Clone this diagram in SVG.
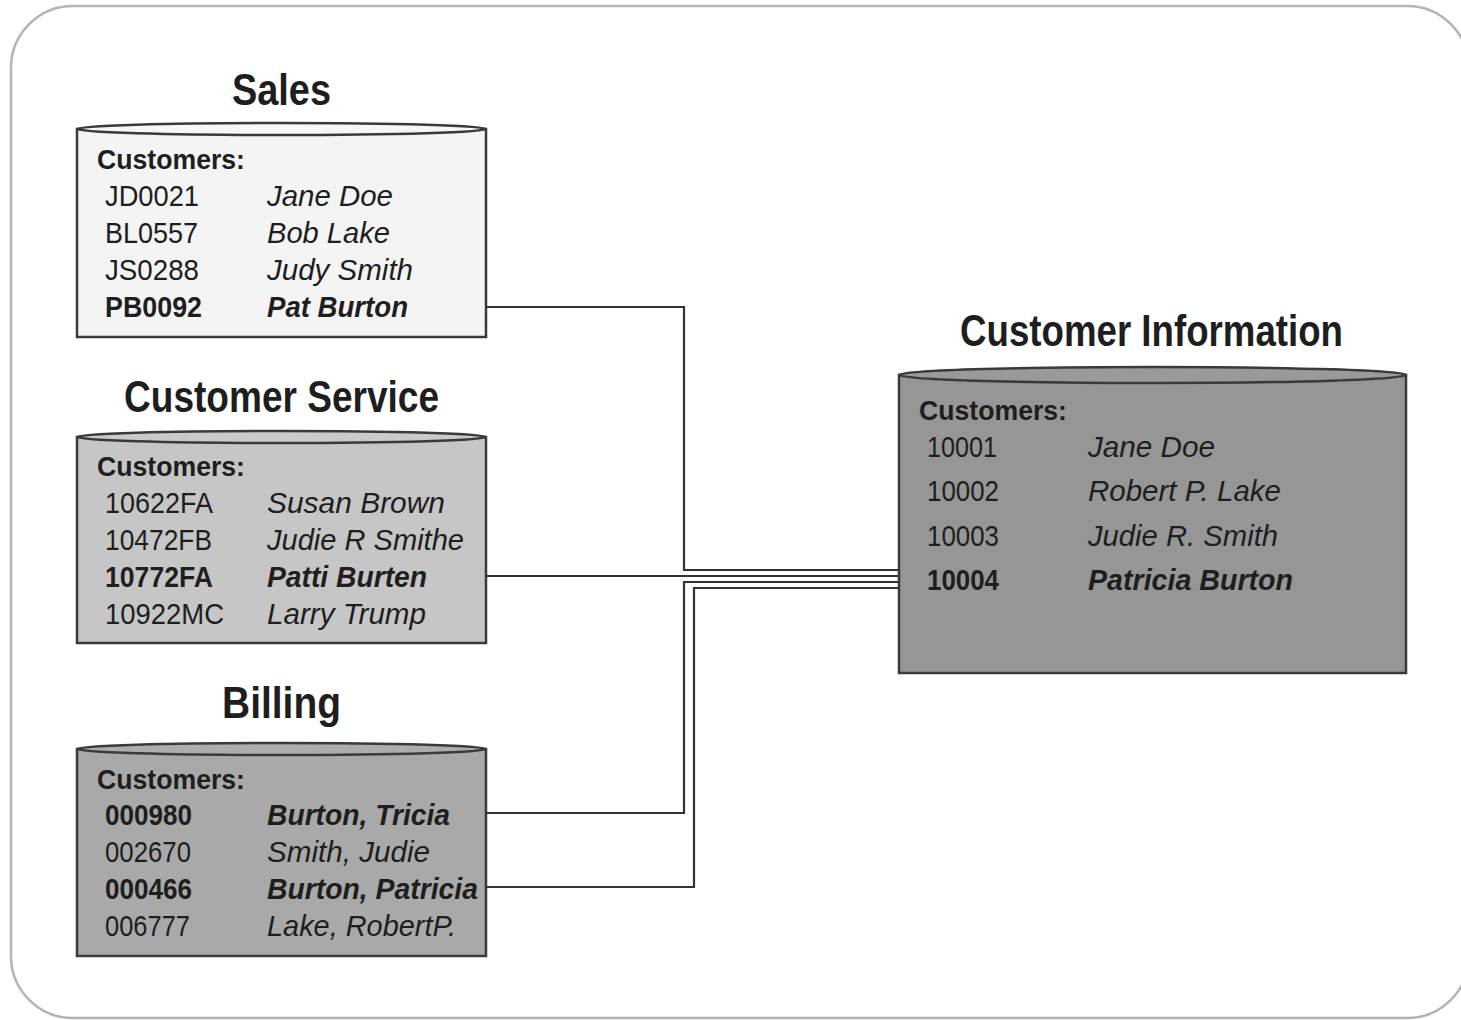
<svg xmlns="http://www.w3.org/2000/svg" width="1461" height="1020" viewBox="0 0 1461 1020">
<style>
text{font-family:"Liberation Sans Narrow","Liberation Sans",Arial,sans-serif;fill:#1e1e1e}
.title{font-size:44px;font-weight:bold}
.hdr{font-size:28px;font-weight:bold}
.id{font-size:30px}
.nm{font-size:30px;font-style:italic}
.b{font-weight:bold}
.cyl{stroke:#3a3a3a;stroke-width:2.5}
.conn{fill:none;stroke:#333;stroke-width:2.2}
</style>
<rect x="11" y="6" width="1458" height="1012" rx="62" ry="62" fill="#fff" stroke="#b4b4b4" stroke-width="2.5"/>

<g id="connectors">
<polyline class="conn" points="485,307 684,307 684,570 899,570"/>
<polyline class="conn" points="485,576 899,576"/>
<polyline class="conn" points="485,813 684,813 684,582 899,582"/>
<polyline class="conn" points="485,887 694,887 694,588 899,588"/>
</g>

<g id="sales">
<text class="title" x="232" y="105" textLength="99" lengthAdjust="spacingAndGlyphs">Sales</text>
<path class="cyl" fill="#f4f4f4" d="M77,129 L77,337 L486,337 L486,129 Z"/>
<ellipse class="cyl" fill="#f7f7f7" cx="281.5" cy="129" rx="204.5" ry="6"/>
<text class="hdr" x="97" y="169" textLength="148" lengthAdjust="spacingAndGlyphs">Customers:</text>
<text class="id" x="105" y="206" textLength="94" lengthAdjust="spacingAndGlyphs">JD0021</text>
<text class="nm" x="267" y="206" textLength="126" lengthAdjust="spacingAndGlyphs">Jane Doe</text>
<text class="id" x="105" y="243" textLength="93" lengthAdjust="spacingAndGlyphs">BL0557</text>
<text class="nm" x="267" y="243" textLength="123" lengthAdjust="spacingAndGlyphs">Bob Lake</text>
<text class="id" x="105" y="280" textLength="94" lengthAdjust="spacingAndGlyphs">JS0288</text>
<text class="nm" x="267" y="280" textLength="146" lengthAdjust="spacingAndGlyphs">Judy Smith</text>
<text class="id b" x="105" y="317" textLength="97" lengthAdjust="spacingAndGlyphs">PB0092</text>
<text class="nm b" x="267" y="317" textLength="141" lengthAdjust="spacingAndGlyphs">Pat Burton</text>
</g>

<g id="customer-service">
<text class="title" x="124" y="412" textLength="315" lengthAdjust="spacingAndGlyphs">Customer Service</text>
<path class="cyl" fill="#c6c6c6" d="M77,437 L77,643 L486,643 L486,437 Z"/>
<ellipse class="cyl" fill="#cacaca" cx="281.5" cy="437" rx="204.5" ry="6"/>
<text class="hdr" x="97" y="476" textLength="148" lengthAdjust="spacingAndGlyphs">Customers:</text>
<text class="id" x="105" y="513" textLength="108" lengthAdjust="spacingAndGlyphs">10622FA</text>
<text class="nm" x="267" y="513" textLength="178" lengthAdjust="spacingAndGlyphs">Susan Brown</text>
<text class="id" x="105" y="550" textLength="107" lengthAdjust="spacingAndGlyphs">10472FB</text>
<text class="nm" x="267" y="550" textLength="197" lengthAdjust="spacingAndGlyphs">Judie R Smithe</text>
<text class="id b" x="105" y="587" textLength="108" lengthAdjust="spacingAndGlyphs">10772FA</text>
<text class="nm b" x="267" y="587" textLength="160" lengthAdjust="spacingAndGlyphs">Patti Burten</text>
<text class="id" x="105" y="624" textLength="119" lengthAdjust="spacingAndGlyphs">10922MC</text>
<text class="nm" x="267" y="624" textLength="159" lengthAdjust="spacingAndGlyphs">Larry Trump</text>
</g>

<g id="billing">
<text class="title" x="222" y="718" textLength="119" lengthAdjust="spacingAndGlyphs">Billing</text>
<path class="cyl" fill="#a9a9a9" d="M77,749 L77,956 L486,956 L486,749 Z"/>
<ellipse class="cyl" fill="#adadad" cx="281.5" cy="749" rx="204.5" ry="6"/>
<text class="hdr" x="97" y="789" textLength="148" lengthAdjust="spacingAndGlyphs">Customers:</text>
<text class="id b" x="105" y="825" textLength="87" lengthAdjust="spacingAndGlyphs">000980</text>
<text class="nm b" x="267" y="825" textLength="183" lengthAdjust="spacingAndGlyphs">Burton, Tricia</text>
<text class="id" x="105" y="862" textLength="86" lengthAdjust="spacingAndGlyphs">002670</text>
<text class="nm" x="267" y="862" textLength="163" lengthAdjust="spacingAndGlyphs">Smith, Judie</text>
<text class="id b" x="105" y="899" textLength="87" lengthAdjust="spacingAndGlyphs">000466</text>
<text class="nm b" x="267" y="899" textLength="211" lengthAdjust="spacingAndGlyphs">Burton, Patricia</text>
<text class="id" x="105" y="936" textLength="85" lengthAdjust="spacingAndGlyphs">006777</text>
<text class="nm" x="267" y="936" textLength="189" lengthAdjust="spacingAndGlyphs">Lake, RobertP.</text>
</g>

<g id="customer-information">
<text class="title" x="960" y="346" textLength="383" lengthAdjust="spacingAndGlyphs">Customer Information</text>
<path class="cyl" fill="#969696" d="M899,375 L899,673 L1406,673 L1406,375 Z"/>
<ellipse class="cyl" fill="#9a9a9a" cx="1152.5" cy="375" rx="253.5" ry="8"/>
<text class="hdr" x="919" y="420" textLength="148" lengthAdjust="spacingAndGlyphs">Customers:</text>
<text class="id" x="927" y="457" textLength="70" lengthAdjust="spacingAndGlyphs">10001</text>
<text class="nm" x="1088" y="457" textLength="127" lengthAdjust="spacingAndGlyphs">Jane Doe</text>
<text class="id" x="927" y="501" textLength="72" lengthAdjust="spacingAndGlyphs">10002</text>
<text class="nm" x="1088" y="501" textLength="193" lengthAdjust="spacingAndGlyphs">Robert P. Lake</text>
<text class="id" x="927" y="546" textLength="72" lengthAdjust="spacingAndGlyphs">10003</text>
<text class="nm" x="1088" y="546" textLength="190" lengthAdjust="spacingAndGlyphs">Judie R. Smith</text>
<text class="id b" x="927" y="590" textLength="72" lengthAdjust="spacingAndGlyphs">10004</text>
<text class="nm b" x="1088" y="590" textLength="205" lengthAdjust="spacingAndGlyphs">Patricia Burton</text>
</g>
</svg>
